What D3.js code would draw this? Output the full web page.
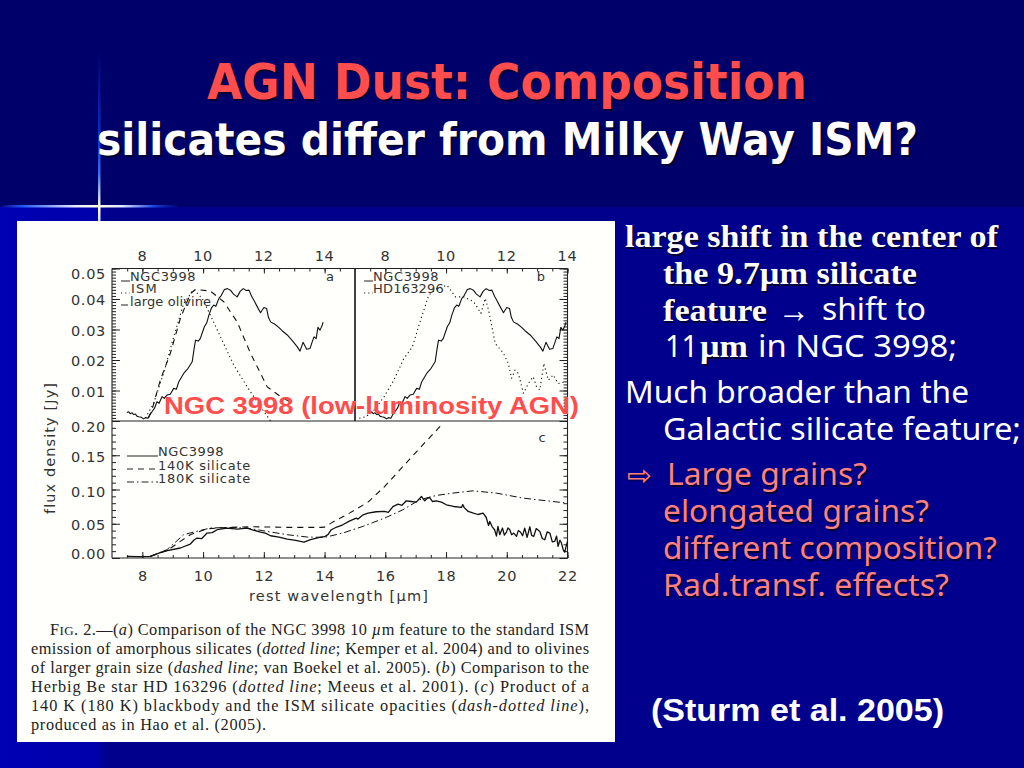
<!DOCTYPE html>
<html><head><meta charset="utf-8">
<script src="https://cdnjs.cloudflare.com/ajax/libs/d3/7.8.5/d3.min.js"></script>
<style>html,body{margin:0;padding:0;background:#00006b;overflow:hidden}svg{display:block}</style>
</head><body><svg id="c" width="1024" height="768"></svg>
<script>
// ---- data: [wavelength um, flux Jy] ----
const ngcSilicate=[[7.49,.0028],[7.55,.003],[7.6,.0024],[7.66,.0027],[7.72,.0021],[7.77,.0023],[7.82,.0016],[7.88,.0014],[7.96,.0012],[8.04,.0007],[8.1,.0011],[8.18,.0009],[8.25,.0022],[8.32,.0031],[8.4,.0042],[8.48,.0063],[8.55,.0058],[8.65,.008],[8.72,.0074],[8.81,.0085],[8.92,.0088],[9.03,.0107],[9.12,.0104],[9.2,.0129],[9.36,.0156],[9.5,.0172],[9.64,.0194],[9.7,.0235],[9.75,.0265],[9.84,.0262],[9.91,.0271],[10.04,.0309],[10.12,.0322],[10.19,.0347],[10.28,.0372],[10.35,.038],[10.42,.0376],[10.52,.0402],[10.6,.0412],[10.7,.0431],[10.8,.0434],[10.9,.0429],[11,.0416],[11.12,.0407],[11.22,.0425],[11.32,.0434],[11.42,.0428],[11.51,.0429],[11.6,.0408],[11.67,.0396],[11.78,.0375],[11.89,.0355],[12,.0372],[12.09,.0369],[12.15,.034],[12.22,.0325],[12.35,.0318],[12.49,.0307],[12.6,.0296],[12.77,.0282],[12.95,.0262],[13.1,.0243],[13.19,.0229],[13.29,.0258],[13.41,.0235],[13.52,.0238],[13.6,.0262],[13.65,.0276],[13.72,.027],[13.78,.0307],[13.85,.0298],[13.92,.0314],[13.95,.0324]];
const ismDotted=[[8.1,.001],[8.37,.0058],[8.7,.0156],[9.03,.0276],[9.36,.0385],[9.69,.0431],[9.97,.0402],[10.24,.0347],[10.57,.0276],[11.01,.0183],[11.45,.0112],[11.89,.0047],[12.22,0]];
const oliveDashed=[[8.2,.001],[8.3,.0031],[8.59,.0134],[8.92,.0222],[9.25,.0336],[9.58,.0418],[9.75,.0431],[10.24,.0426],[10.68,.0391],[11.12,.0325],[11.56,.0222],[12.11,.0112],[12.55,.008],[12.9,.006]];
const hdDotted=[[7.14,.0009],[7.36,.0014],[7.63,.0036],[7.96,.008],[8.28,.0134],[8.61,.0205],[8.89,.0243],[9.16,.0331],[9.43,.0413],[9.7,.0434],[10.03,.0445],[10.31,.0407],[10.58,.0407],[10.91,.0391],[11.15,.0353],[11.29,.0402],[11.4,.0364],[11.62,.0254],[11.89,.0222],[12.05,.0189],[12.16,.014],[12.27,.0167],[12.38,.0156],[12.55,.0091],[12.71,.0123],[12.87,.0145],[12.98,.0112],[13.09,.0102],[13.22,.0189],[13.37,.0134],[13.53,.0151],[13.69,.0123],[13.97,.0129]];
const ngcFull=[[7.49,.0024],[7.9,.002],[8.26,.0024],[8.7,.0097],[9.25,.0146],[9.58,.0204],[9.7,.0262],[9.8,.0291],[9.95,.0282],[10.13,.0364],[10.3,.037],[10.46,.0413],[10.79,.0437],[11.12,.0422],[11.45,.0437],[11.65,.0408],[11.89,.0379],[12.05,.0362],[12.22,.0325],[12.5,.0306],[12.77,.0277],[13.05,.0258],[13.32,.0233],[13.54,.0267],[13.87,.0306],[14,.0311],[14.12,.0345],[14.22,.0413],[14.4,.0452],[14.6,.0485],[14.8,.0535],[15.04,.0583],[15.1,.0568],[15.25,.0625],[15.43,.0655],[15.7,.0675],[15.98,.068],[16.1,.0665],[16.25,.075],[16.42,.0786],[16.55,.077],[16.69,.0835],[16.85,.0825],[17.02,.0816],[17.19,.0898],[17.3,.0835],[17.38,.087],[17.46,.0883],[17.55,.0825],[17.68,.0835],[17.85,.0815],[18.01,.0777],[18.25,.0752],[18.51,.0738],[18.55,.078],[18.6,.0735],[18.73,.068],[18.9,.0655],[19.05,.0635],[19.22,.0655],[19.32,.0595],[19.4,.0475],[19.44,.0534],[19.52,.0455],[19.6,.0413],[19.66,.032],[19.71,.0462],[19.77,.034],[19.86,.0437],[19.92,.0335],[19.99,.0379],[20.04,.044],[20.1,.0413],[20.16,.034],[20.23,.0364],[20.32,.0316],[20.38,.04],[20.45,.0379],[20.52,.0325],[20.59,.0437],[20.67,.0301],[20.76,.0456],[20.82,.033],[20.89,.0316],[20.97,.043],[21.09,.0388],[21.17,.0285],[21.25,.0267],[21.33,.038],[21.42,.0364],[21.5,.0235],[21.58,.0243],[21.64,.032],[21.69,.017],[21.75,.026],[21.8,.0218],[21.86,.012],[21.91,.0087],[21.96,.018],[22,.0243]];
const k140=[[8.26,.0024],[8.81,.0107],[9.25,.0243],[9.58,.034],[10.13,.0427],[10.79,.0447],[11.67,.0456],[12.77,.0447],[13.87,.0447],[14,.0451],[14.27,.0524],[14.82,.0655],[15.43,.0816],[15.98,.1044],[16.53,.1311],[17.13,.1602],[17.85,.1942]];
const k180=[[8.26,.0024],[8.81,.0121],[9.36,.034],[9.69,.0379],[10.24,.0437],[10.79,.0447],[11.45,.0437],[12.11,.0388],[12.77,.034],[13.43,.0306],[14,.0301],[14.6,.0364],[15.26,.0461],[15.98,.0583],[16.58,.0704],[17.13,.085],[17.68,.0913],[18.22,.0947],[18.89,.0981],[19.66,.0947],[20.54,.0874],[21.31,.0835],[22,.0801]];
const topXTicks=[8,10,12,14];
const bottomXTicks=[8,10,12,14,16,18,20,22];
const upperYTicks=[.01,.02,.03,.04,.05];
const lowerYTicks=[0,.05,.1,.15,.2];
const upperLabelNudge=[6,6,6,6,10];
const lowerLabelNudge=[.5,6,7,7,10.5];

const svg=d3.select("#c"), defs=svg.append("defs");
const SANS="'Noto Sans',sans-serif", SERIF="'Liberation Serif',serif", ARIAL="'Liberation Sans',sans-serif", DJ="'DejaVu Sans',sans-serif";

// ---- slide background ----
function grad(id,x2,y2,stops){const g=defs.append("linearGradient").attr("id",id).attr("x1",0).attr("y1",0).attr("x2",x2).attr("y2",y2);
 stops.forEach(s=>g.append("stop").attr("offset",s[0]).attr("stop-color",s[1]).attr("stop-opacity",s[2]===undefined?1:s[2]));}
grad("stripe",1,0,[[0,"#0000b4"],[.88,"#0000ac"],[1,"#00008c"]]);
grad("hl",1,0,[[0,"#2a5cff",0],[.12,"#1f55f0"],[.42,"#e8ecff"],[.55,"#ffffe0"],[.68,"#dfe6ff"],[.85,"#1b49e0"],[1,"#0a2ad0",0]]);
grad("vl",0,1,[[0,"#0a2ad0",0],[.55,"#0f35d8"],[.72,"#3a6cf0"],[.92,"#ffffe0"],[1,"#d8e0ff"]]);
svg.append("rect").attr("width",1024).attr("height",768).attr("fill","#00006b");
svg.append("rect").attr("y",207).attr("width",1024).attr("height",561).attr("fill","#00008c");
svg.append("rect").attr("y",207).attr("width",108).attr("height",561).attr("fill","url(#stripe)");
svg.append("rect").attr("y",205).attr("width",180).attr("height",2.5).attr("fill","url(#hl)");
svg.append("rect").attr("x",98).attr("y",50).attr("width",2.5).attr("height",171).attr("fill","url(#vl)");

function shadowText(p,t,x,y,w,o){
 const add=(dx,dy,fill)=>p.append("text").attr("x",x+dx).attr("y",y+dy).attr("font-family",o.f).attr("font-size",o.s).attr("font-weight",o.w||400).attr("fill",fill)
   .attr("textLength",w).attr("lengthAdjust","spacingAndGlyphs").text(t);
 if(o.sh!==0) add(o.sh||2,o.sh||2,"#000030");
 add(0,0,o.c||"#fff");
}
// ---- title ----
shadowText(svg,"AGN Dust: Composition",207,99,600,{f:DJ,s:50,w:700,c:"#ff4d4d"});
shadowText(svg,"silicates differ from Milky Way ISM?",97,155,821,{f:DJ,s:45,w:700});

// ---- figure ----
svg.append("rect").attr("x",17).attr("y",221).attr("width",598).attr("height",521).attr("fill","#fffffc");
const fig=svg.append("g");
const INK="#222";
const xA=d3.scaleLinear([7,15],[112,355]), xB=d3.scaleLinear([7,14],[355,567.5]), xC=d3.scaleLinear([7,22],[112,567.5]);
const yUp=d3.scaleLinear([0,.05],[421,268.5]), yLow=d3.scaleLinear([0,.2],[558,421]);
const seq=(a,b,s)=>d3.range(Math.round((b-a)/s)+1).map(i=>a+i*s);

function axis(gen,tx,ty,major,minor,fmt,labelled,len=8,mlen=4){
 const g=fig.append("g").attr("transform",`translate(${tx},${ty})`);
 const gm=g.append("g").call(gen().tickValues(minor).tickSize(mlen).tickFormat(()=>""));
 const gM=g.append("g").call(gen().tickValues(major).tickSize(len).tickFormat(labelled?fmt:()=>""));
 [gm,gM].forEach(s=>{s.selectAll("path").attr("stroke","none");s.selectAll("line").attr("stroke",INK).attr("stroke-width",1);});
 return gM;
}
const f2=d3.format(".2f");
const minX=seq(7.5,22,.5), minYu=seq(0,.05,.001), minYl=seq(0,.2,.01);
axis(()=>d3.axisBottom(xA),0,268.5,topXTicks,minX.filter(v=>v<15),String,false,5,3);
axis(()=>d3.axisBottom(xB),0,268.5,topXTicks,minX.filter(v=>v<=14),String,false,5,3);
[xA,xB].forEach(sc=>{topXTicks.forEach(v=>fig.append("text").attr("x",sc(v)).attr("y",261).attr("text-anchor","middle").attr("font-family",DJ).attr("font-size",14.5).attr("letter-spacing",.7).attr("fill","#333").text(v));});
axis(()=>d3.axisRight(yUp),112,0,upperYTicks,minYu,f2,false);
axis(()=>d3.axisRight(yLow),112,0,lowerYTicks,minYl,f2,false);
const yLab=(v,y)=>fig.append("text").attr("x",106).attr("y",y).attr("text-anchor","end").attr("font-family",DJ).attr("font-size",14.5).attr("letter-spacing",.7).attr("fill","#333").text(f2(v));
upperYTicks.forEach((v,i)=>yLab(v,yUp(v)+upperLabelNudge[i]));
lowerYTicks.forEach((v,i)=>yLab(v,yLow(v)+lowerLabelNudge[i]));
axis(()=>d3.axisLeft(yUp),567.5,0,upperYTicks,minYu,f2,false);
axis(()=>d3.axisLeft(yLow),567.5,0,lowerYTicks,minYl,f2,false);
const gb=axis(()=>d3.axisTop(xC),0,558,bottomXTicks,minX,String,true,6,3);
gb.selectAll(".tick text").attr("y",23).attr("dy",0).attr("font-family",DJ).attr("font-size",14.5).attr("letter-spacing",.7).attr("fill","#333");
[[112,268.5,567.5,268.5],[112,268.5,112,558],[567.5,268.5,567.5,558],[112,558,567.5,558],[112,421,567.5,421]].forEach(l=>fig.append("line").attr("x1",l[0]).attr("y1",l[1]).attr("x2",l[2]).attr("y2",l[3]).attr("stroke","#222").attr("stroke-width",1.1));
fig.append("line").attr("x1",355).attr("x2",355).attr("y1",268.5).attr("y2",421).attr("stroke","#111").attr("stroke-width",1.6);

function curve(data,sx,sy,dash,w){
 const ln=d3.line().x(d=>sx(d[0])).y(d=>sy(d[1]));
 fig.append("path").datum(data).attr("d",ln).attr("fill","none").attr("stroke","#111").attr("stroke-width",w).attr("stroke-dasharray",dash).attr("stroke-linejoin","round");
}
const DOT="1.2 3", DASH="6 5", DD="7 3 1.5 3";
curve(ismDotted,xA,yUp,DOT,1.1);
curve(oliveDashed,xA,yUp,DASH,1.1);
curve(ngcSilicate,xA,yUp,null,1.1);
curve(hdDotted,xB,yUp,DOT,1.1);
curve(ngcSilicate,xB,yUp,null,1.1);
curve(k140,xC,yLow,DASH,1.1);
curve(k180,xC,yLow,DD,1);
curve(ngcFull,xC,yLow,null,1.3);

function lab(tx,x,y,ls,anchor){fig.append("text").attr("x",x).attr("y",y).attr("font-family",DJ).attr("font-size",13).attr("letter-spacing",ls===undefined?.6:ls).attr("text-anchor",anchor||"start").attr("fill","#333").text(tx);}
function lg(x1,x2,y,dash){fig.append("line").attr("x1",x1).attr("x2",x2).attr("y1",y).attr("y2",y).attr("stroke","#222").attr("stroke-width",1).attr("stroke-dasharray",dash);}
lab("NGC3998",130,281);lg(121,130,281,null);
lab("ISM",131,293,1.2);lg(121,130,293,DOT);
lab("large olivine",130,305.5,.1);lg(121,128,305,null);
lab("a",330,281,0,"middle");
lab("NGC3998",373,281);lg(364,373,281,null);
lab("HD163296",373,293,.2);lg(364,373,293,DOT);
lab("b",541,281,0,"middle");
lab("c",542,442,0,"middle");
lab("NGC3998",158,456);lg(127,158,456,null);
lab("140K silicate",158,470,.75);lg(127,158,469,DASH);
lab("180K silicate",158,483,.75);lg(127,158,482,DD);
fig.append("text").attr("transform","translate(55,448) rotate(-90)").attr("text-anchor","middle").attr("font-family",DJ).attr("font-size",14.5).attr("letter-spacing",1.1).attr("fill","#333").text("flux density [Jy]");
fig.append("text").attr("x",339).attr("y",601).attr("text-anchor","middle").attr("font-family",DJ).attr("font-size",14.5).attr("letter-spacing",1.2).attr("fill","#333").text("rest wavelength [µm]");

function cap(y,x,w,parts){const tx=fig.append("text").attr("x",x).attr("y",y).attr("font-family",SERIF).attr("font-size",16.3).attr("fill","#222").attr("textLength",w).attr("lengthAdjust","spacing");
 parts.forEach(p=>{const s=tx.append("tspan").attr("font-style",p[1]===1?"italic":"normal").text(p[0]); if(p[1]===2) s.attr("font-size",13);});}
cap(635,50,539,[["F"],["IG",2],[". 2.—("],["a",1],[") Comparison of the NGC 3998 10 "],["µ",1],["m feature to the standard ISM"]]);
cap(654,31,558,[["emission of amorphous silicates ("],["dotted line",1],["; Kemper et al. 2004) and to olivines"]]);
cap(673,31,558,[["of larger grain size ("],["dashed line",1],["; van Boekel et al. 2005). ("],["b",1],[") Comparison to the"]]);
cap(692,31,558,[["Herbig Be star HD 163296 ("],["dotted line",1],["; Meeus et al. 2001). ("],["c",1],[") Product of a"]]);
cap(711,31,558,[["140 K (180 K) blackbody and the ISM silicate opacities ("],["dash-dotted line",1],["),"]]);
cap(730,31,235,[["produced as in Hao et al. (2005)."]]);

svg.append("text").attr("x",164).attr("y",414).attr("font-family",ARIAL).attr("font-weight",700).attr("font-size",24).attr("fill","#ff4d4d").attr("textLength",415).attr("lengthAdjust","spacingAndGlyphs").text("NGC 3998 (low-luminosity AGN)");

const bs={f:SERIF,s:31,w:700,sh:1.5}, ns={f:SANS,s:31,sh:0}, pk={f:SANS,s:31,c:"#ff8080",sh:1.5};
shadowText(svg,"large shift in the center of",625,247,373,bs);
shadowText(svg,"the 9.7µm silicate",663,284,254,bs);
shadowText(svg,"feature",663,321,104,bs);
shadowText(svg,"→",778,322,32,{f:SERIF,s:36,sh:0});
shadowText(svg,"shift to",822,320,104,ns);
shadowText(svg,"11",665,357,33,ns);
shadowText(svg,"µm",700,357,48,bs);
shadowText(svg,"in NGC 3998;",758,357,199,ns);
shadowText(svg,"Much broader than the",625,403,344,ns);
shadowText(svg,"Galactic silicate feature;",663,440,358,ns);
shadowText(svg,"⇨",627,485,25,{f:DJ,s:28,c:"#ff8080",sh:1});
shadowText(svg,"Large grains?",667,485,200,pk);
shadowText(svg,"elongated grains?",663,522,266,pk);
shadowText(svg,"different composition?",663,559,334,pk);
shadowText(svg,"Rad.transf. effects?",663,596,286,pk);
shadowText(svg,"(Sturm et al. 2005)",651,721,293,{f:ARIAL,s:31,w:700,sh:0});
</script></body></html>
